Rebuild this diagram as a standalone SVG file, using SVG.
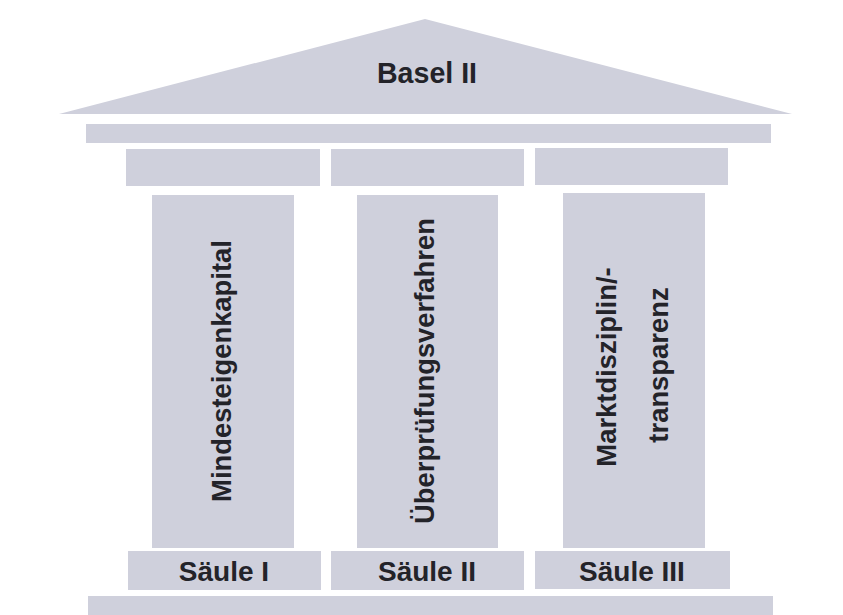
<svg xmlns="http://www.w3.org/2000/svg" width="843" height="615" viewBox="0 0 843 615">
  <style>
    .stone { fill: #cfd0dc; }
    .lbl { font-family: "Liberation Sans", Arial, sans-serif; font-weight: bold; fill: #232329; }
    .h { font-size: 28px; text-anchor: middle; }
    .v { font-size: 27.4px; text-anchor: middle; }
  </style>
  <rect x="0" y="0" width="843" height="615" fill="#ffffff"/>

  <!-- roof -->
  <g id="roof">
    <polygon class="stone" points="59,114 425,19 792,114"/>
    <text class="lbl" x="377" y="83" font-size="30" textLength="100" lengthAdjust="spacingAndGlyphs">Basel II</text>
  </g>

  <!-- entablature and capitals -->
  <g id="entablature">
    <rect class="stone" x="86" y="124" width="685" height="19"/>
  </g>
  <g id="capitals">
    <rect class="stone" x="126" y="149" width="194" height="37"/>
    <rect class="stone" x="331" y="149" width="193" height="37"/>
    <rect class="stone" x="535" y="148" width="193" height="37"/>
  </g>

  <!-- pillars -->
  <g id="pillar1">
    <rect class="stone" x="152" y="195" width="142" height="353"/>
    <text class="lbl v" transform="translate(231,371) rotate(-90)">Mindesteigenkapital</text>
  </g>
  <g id="pillar2">
    <rect class="stone" x="357" y="195" width="141" height="353"/>
    <text class="lbl v" transform="translate(434,371) rotate(-90)">Überprüfungsverfahren</text>
  </g>
  <g id="pillar3">
    <rect class="stone" x="563" y="193" width="142" height="355"/>
    <text class="lbl v" transform="translate(616,367) rotate(-90)">Marktdisziplin/-</text>
    <text class="lbl v" transform="translate(668,365) rotate(-90)">transparenz</text>
  </g>

  <!-- pillar bases -->
  <g id="base1">
    <rect class="stone" x="128" y="551" width="193" height="39"/>
    <text class="lbl h" x="224" y="581">Säule I</text>
  </g>
  <g id="base2">
    <rect class="stone" x="331" y="551" width="193" height="39"/>
    <text class="lbl h" x="427" y="581">Säule II</text>
  </g>
  <g id="base3">
    <rect class="stone" x="535" y="551" width="195" height="38"/>
    <text class="lbl h" x="632" y="581">Säule III</text>
  </g>

  <!-- foundation -->
  <g id="foundation">
    <rect class="stone" x="88" y="596" width="685" height="19"/>
  </g>

  <g id="connectors"/>
</svg>
